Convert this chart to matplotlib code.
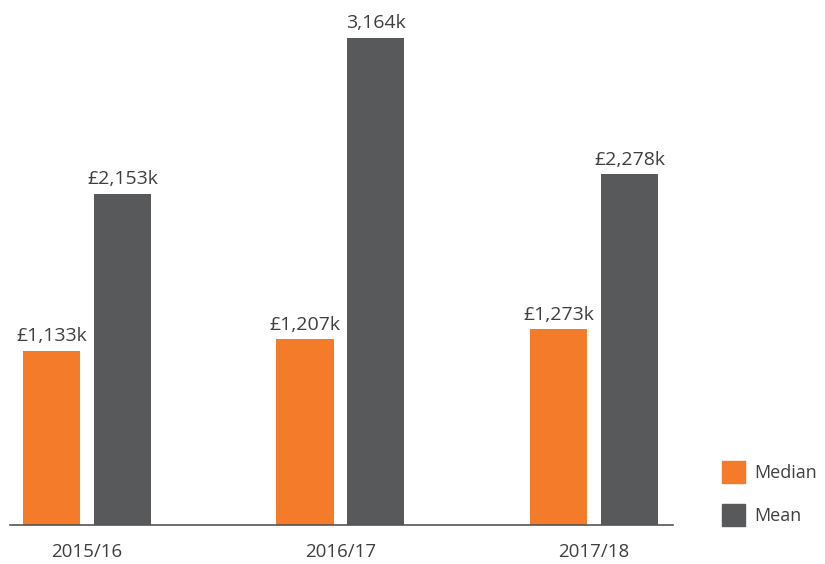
import numpy as np
import matplotlib
matplotlib.use("Agg")
import matplotlib.pyplot as plt
from matplotlib.patches import Patch

years = ["2015/16", "2016/17", "2017/18"]
median = [1133, 1207, 1273]
mean = [2153, 3164, 2278]
median_labels = ["£1,133k", "£1,207k", "£1,273k"]
mean_labels = ["£2,153k", "3,164k", "£2,278k"]

orange = "#F47B2A"
grey = "#58595B"
text_col = "#3F3F3F"

plt.rcParams['font.family'] = ['Open Sans', 'DejaVu Sans']

fig = plt.figure(figsize=(8.25, 5.64), dpi=100)
ax = fig.add_axes([10/825, 39/564, 663/825, 515/564])

x = np.arange(len(years))
w = 0.225
off = 0.14
b1 = ax.bar(x - off, median, w, color=orange)
b2 = ax.bar(x + off, mean, w, color=grey)

for bars, labs in ((b1, median_labels), (b2, mean_labels)):
    for b, lab in zip(bars, labs):
        ax.annotate(lab, (b.get_x() + b.get_width()/2, b.get_height()),
                    xytext=(0, 4), textcoords="offset points",
                    ha="center", va="bottom", fontsize=14, color=text_col)

ax.set_xlim(-0.304, 2.312)
ax.set_ylim(0, 3346)
ax.set_xticks(x)
ax.set_xticklabels(years, fontsize=13.5, color=text_col)
ax.tick_params(axis="x", length=0, pad=13)
ax.set_yticks([])
for s in ["top", "right", "left"]:
    ax.spines[s].set_visible(False)
ax.spines["bottom"].set_color("#555555")
ax.spines["bottom"].set_linewidth(1.2)

handles = [Patch(color=orange, label="Median"), Patch(color=grey, label="Mean")]
fig.legend(handles=handles, loc="lower left", bbox_to_anchor=(706/825, 22/564),
           frameon=False, fontsize=13, handlelength=1.27, handleheight=1.46,
           labelspacing=1.2, handletextpad=0.5, labelcolor=text_col)

fig.savefig("out.png", dpi=100)
